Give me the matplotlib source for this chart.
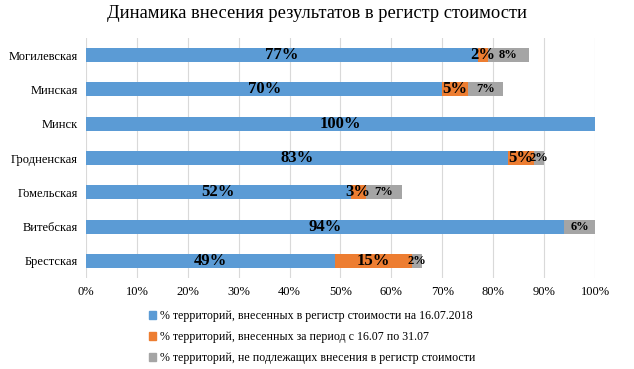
import numpy as np
from matplotlib import pyplot as plt
from matplotlib.patches import Patch

plt.rcParams['font.family'] = ['Liberation Serif', 'DejaVu Serif']

regions = ["Брестская", "Витебская", "Гомельская", "Гродненская", "Минск", "Минская", "Могилевская"]
registered = [49, 94, 52, 83, 100, 70, 77]     # на 16.07.2018
added = [15, 0, 3, 5, 0, 5, 2]                 # с 16.07 по 31.07
excluded = [2, 6, 7, 2, 0, 7, 8]               # не подлежащих внесению

series_names = ["% территорий, внесенных в регистр стоимости на 16.07.2018",
                "% территорий, внесенных за период с 16.07 по 31.07",
                "% территорий, не подлежащих внесения в регистр стоимости"]
colors = ["#5b9bd5", "#ed7d31", "#a5a5a5"]

fig = plt.figure(figsize=(6.34, 3.69), dpi=100)
ax = fig.add_axes([0.1356, 0.2466, 0.8029, 0.6504])

y = np.arange(len(regions))
h = 0.41
left = np.zeros(len(regions))
sizes = [12, 12, 9]
for vals, col, fs in zip([registered, added, excluded], colors, sizes):
    vals = np.array(vals)
    ax.barh(y, vals, left=left, height=h, color=col, zorder=2)
    for yi, l, v in zip(y, left, vals):
        if v > 0:
            ax.text(l + v / 2, yi, "%d%%" % v, ha="center", va="center",
                    fontsize=fs, fontweight="bold", color="black", zorder=3)
    left = left + vals

ax.set_xlim(0, 100)
ax.set_ylim(-0.5, len(regions) - 0.5)
ax.set_xticks(np.arange(0, 101, 10))
ax.set_xticklabels(["%d%%" % t for t in range(0, 101, 10)], fontsize=9)
ax.set_yticks(y)
ax.set_yticklabels(regions, fontsize=9)
ax.tick_params(length=0, pad=6)
ax.grid(axis="x", color="#d9d9d9", linewidth=0.8, zorder=0)
for s in ax.spines.values():
    s.set_visible(False)

fig.text(0.5, 0.963, "Динамика внесения результатов в регистр стоимости",
         ha="center", va="center", fontsize=13.3)

handles = [Patch(color=c) for c in colors]
fig.legend(handles, series_names, loc="upper left", bbox_to_anchor=(0.228, 0.172),
           frameon=False, fontsize=8.6, handlelength=0.6, handleheight=0.6,
           handletextpad=0.3, labelspacing=0.75, borderaxespad=0)

fig.savefig("out.png", dpi=100)
